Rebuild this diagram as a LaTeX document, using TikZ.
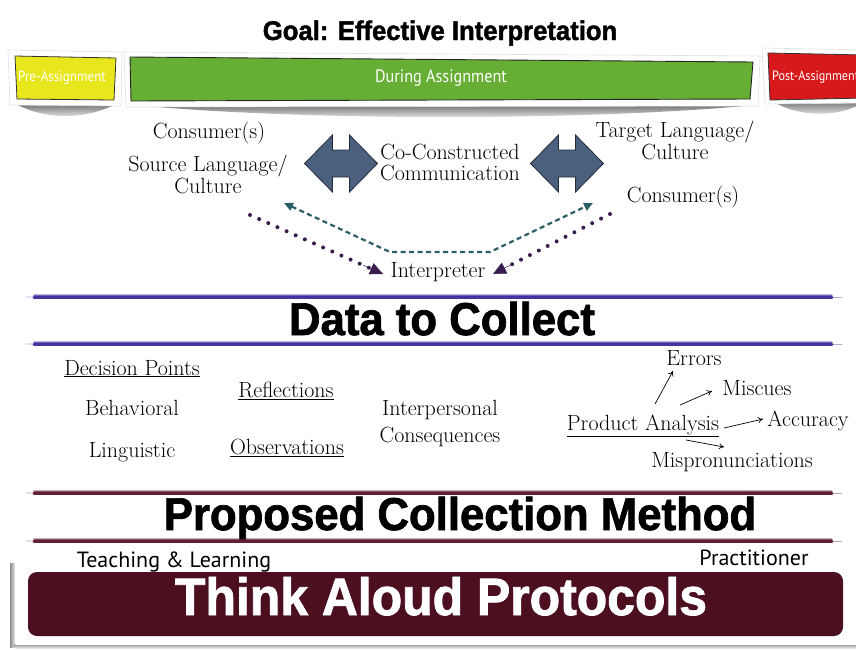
\documentclass[tikz,border=0pt]{standalone}
\usepackage{fontspec}
\newfontfamily\headfont[FakeStretch=0.95, BoldFeatures={FakeBold=1.6}]{Liberation Sans}
\newfontfamily\tagfont{PT Sans}
\newfontfamily\cardfont[FakeStretch=0.9]{PT Sans}
\usetikzlibrary{arrows.meta,calc}
\definecolor{preyellow}{HTML}{E8E61C}
\definecolor{durgreen}{HTML}{67AE34}
\definecolor{postred}{HTML}{D8191B}
\definecolor{slate}{HTML}{4B5F7E}
\definecolor{slatedark}{HTML}{232B3A}
\definecolor{tealdash}{HTML}{2C5E66}
\definecolor{dotpurple}{HTML}{3A1C4E}
\definecolor{brushpurple}{HTML}{3F2E9C}
\definecolor{brushmaroon}{HTML}{5C1B2C}
\definecolor{maroonbox}{HTML}{4B0F20}
\newcommand\brushline[2]{%
  \foreach \dy/\w/\op in {-2.2/0.8/0.35,-1.2/1.8/0.75,0.2/2.6/0.95,1.6/1.2/0.5}{%
    \draw[#2, line width=\w, opacity=\op, line cap=round] (34,#1+\dy) -- (832,#1+\dy);}
  \draw[#2, line width=0.6, opacity=0.4] (26,#1) -- (842,#1+0.5);}
\begin{document}
\begin{tikzpicture}[x=1pt,y=-1pt,
  serif/.style={font=\fontsize{22}{20.5}\selectfont, inner sep=0pt},
  head/.style={font=\headfont\bfseries\fontsize{46}{46}\selectfont, inner sep=0pt},
  tag/.style={font=\tagfont\fontsize{22}{22}\selectfont, inner sep=0pt},
  card/.style={fill=white, draw=black!12, line width=0.6},
  cardshadow/.style={top color=black!55, bottom color=white, draw=none},
  ptr/.style={-{To[length=5pt,width=6pt]}, line width=0.7},
  dblarrow/.pic={\filldraw[fill=slate, draw=slatedark, line width=0.8]
     (-36.5,0) -- (-8.5,-28.5) -- (-8.5,-13.5) -- (8.5,-13.5) -- (8.5,-28.5) -- (36.5,0)
     -- (8.5,28.5) -- (8.5,13.5) -- (-8.5,13.5) -- (-8.5,28.5) -- cycle;}
]
\useasboundingbox (0,0) rectangle (856,649);
\clip (0,0) rectangle (856,649);

% ---------- goal ----------
\node[font=\headfont\bfseries\fontsize{27}{27}\selectfont, inner sep=0pt, anchor=base] (goal) at (440,40) {Goal: Effective Interpretation};

% ---------- phase cards ----------
\shade[cardshadow] (16,104) .. controls (45,120) and (85,120) .. (116,104) -- cycle;
\path[card] (8,50) -- (122,52) -- (121,106) -- (10,105) -- cycle;
\filldraw[fill=preyellow, draw=black!80, line width=0.8] (15,56) -- (116,58) -- (114,100) -- (17,99) -- cycle;
\node[font=\cardfont\fontsize{14.5}{15}\selectfont, text=white, inner sep=0pt] (pre) at (62,78) {Pre-Assignment};

\shade[cardshadow] (135,105) .. controls (300,121) and (590,121) .. (755,105) -- cycle;
\path[card] (124,52) -- (760,56) -- (758,106) -- (126,107) -- cycle;
\filldraw[fill=durgreen, draw=black!85, line width=0.9] (130,57) -- (753,62) -- (750,99) -- (131,101) -- cycle;
\node[font=\cardfont\fontsize{18}{18}\selectfont, text=white, inner sep=0pt] (during) at (441,78) {During Assignment};

\shade[cardshadow] (772,101) .. controls (800,118) and (840,118) .. (866,101) -- cycle;
\path[card] (762,48) -- (866,50) -- (866,103) -- (765,104) -- cycle;
\filldraw[fill=postred, draw=black!80, line width=0.8] (768,53) -- (866,55) -- (866,98) -- (770,100) -- cycle;
\node[font=\cardfont\fontsize{13.5}{14}\selectfont, text=white, inner sep=0pt, anchor=west] (post) at (772,77) {Post-Assignment};

% ---------- communication ----------
\node[serif, anchor=base] (cons1) at (209,138) {Consumer(s)};
\node[serif, anchor=base, align=center] (src) at (208,193) {Source Language/\\Culture};
\node[serif, anchor=base, align=center] (cocon) at (450,180) {Co-Constructed\\Communication};
\node[serif, anchor=base, align=center] (tgt) at (675,159) {Target Language/\\Culture};
\node[serif, anchor=base] (cons2) at (683,202) {Consumer(s)};
\pic at (341,163.5) {dblarrow};
\pic at (567,163.5) {dblarrow};

\node[serif, anchor=base] (interp) at (438,277) {Interpreter};

\coordinate (tl) at (284,203);
\coordinate (tb1) at (390,252);
\coordinate (tb2) at (490,252);
\coordinate (tr) at (593,203);
\draw[tealdash, line width=2.2, dash pattern=on 5pt off 3.5pt,
  {Triangle[length=9pt,width=8pt]}-{Triangle[length=9pt,width=8pt]}] (tl) -- (tb1) -- (tb2) -- (tr);

\coordinate (dl1) at (250,215);
\coordinate (dl2) at (383,274);
\coordinate (dr1) at (610,214);
\coordinate (dr2) at (493,274);
\draw[dotpurple, line width=4, line cap=round, dash pattern=on 0pt off 10pt] (dl1) -- ($(dl1)!0.9!(dl2)$);
\draw[dotpurple, line width=4, line cap=round, dash pattern=on 0pt off 10pt] (dr1) -- ($(dr1)!0.9!(dr2)$);
\draw[dotpurple, line width=0.5, -{Triangle[length=13pt,width=12pt]}] ($(dl1)!0.85!(dl2)$) -- (dl2);
\draw[dotpurple, line width=0.5, -{Triangle[length=13pt,width=12pt]}] ($(dr1)!0.85!(dr2)$) -- (dr2);

% ---------- data to collect ----------
\brushline{297}{brushpurple}
\node[head, anchor=base] (data) at (442,335) {Data to Collect};
\brushline{344}{brushpurple}

\node[serif, anchor=base] (dec) at (132,375) {\underline{Decision Points}};
\node[serif, anchor=base] (beh) at (132,415) {Behavioral};
\node[serif, anchor=base] (ling) at (132,457) {Linguistic};
\node[serif, anchor=base] (refl) at (286,397) {\underline{Reflections}};
\node[serif, anchor=base] (obs) at (287,454) {\underline{Observations}};
\node[serif, anchor=base, align=center, font=\fontsize{22}{27}\selectfont] (inter) at (440,442) {Interpersonal\\Consequences};
\node[serif, anchor=base] (pa) at (643,430) {\underline{Product Analysis}};
\node[serif, anchor=base] (err) at (694,365) {Errors};
\node[serif, anchor=base] (misc) at (757,395) {Miscues};
\node[serif, anchor=base] (acc) at (808,426) {Accuracy};
\node[serif, anchor=base] (mispr) at (732,467) {Mispronunciations};

\coordinate (e1) at (655,404); \coordinate (e2) at (673,371);
\coordinate (m1) at (680,405); \coordinate (m2) at (712,391);
\coordinate (a1) at (724,428); \coordinate (a2) at (763,419);
\coordinate (p1) at (686,440); \coordinate (p2) at (724,447);
\draw[ptr] (e1) -- (e2);
\draw[ptr] (m1) -- (m2);
\draw[ptr] (a1) -- (a2);
\draw[ptr] (p1) -- (p2);

% ---------- proposed collection method ----------
\brushline{493}{brushmaroon}
\node[head, anchor=base] (prop) at (460,530) {Proposed Collection Method};
\brushline{541}{brushmaroon}

\shade[left color=black!45, right color=white] (10,563) rectangle (16,647);
\shade[top color=black!45, bottom color=white] (14,644) rectangle (860,649);
\path[fill=white] (15,562) rectangle (860,645);
\node[tag, anchor=base] (teach) at (174,567) {Teaching \& Learning};
\node[tag, anchor=base] (pract) at (754,565) {Practitioner};
\fill[maroonbox, rounded corners=9pt] (28,572) rectangle (843,636);
\node[font=\headfont\bfseries\fontsize{52.5}{53}\selectfont, text=white, inner sep=0pt, anchor=base] (tap) at (441,615) {Think Aloud Protocols};
\end{tikzpicture}
\end{document}
